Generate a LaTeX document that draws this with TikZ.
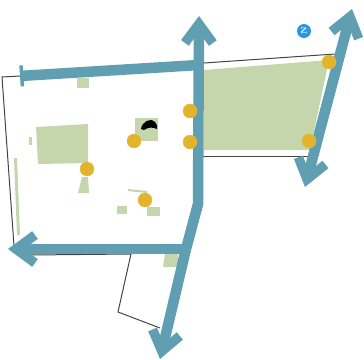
\documentclass[tikz,border=0pt]{standalone}
\usepackage{xcolor}
\usetikzlibrary{arrows.meta}
\definecolor{road}{HTML}{609FB2}
\definecolor{patch}{HTML}{C6D6AC}
\definecolor{spotc}{HTML}{E3B32C}
\definecolor{north}{HTML}{2A97DC}
\definecolor{wall}{HTML}{444444}
\begin{document}
\begin{tikzpicture}[x=1pt,y=-1pt,
  roadline/.style={draw=road,line width=10.5pt,line join=miter},
  roadtip/.tip={Straight Barb[length=19pt,width=28pt,line width=9.5pt]},
  wallline/.style={draw=wall,line width=1pt},
  patcharea/.style={fill=patch,draw=none},
  spot/.style={circle,fill=spotc,draw=spotc!90!white,inner sep=0pt,minimum size=14pt}
]
\useasboundingbox (0,0) rectangle (364,359);
% plot outline
\coordinate (w1) at (20,76);
\coordinate (w2) at (2,77);
\coordinate (w3) at (14,246);
\coordinate (w4) at (30,255);
\coordinate (w5) at (131,254);
\coordinate (w6) at (118,312);
\coordinate (w7) at (160,328);
\coordinate (w8) at (204,63);
\coordinate (w9) at (335,54);
\coordinate (w10) at (203,156);
\coordinate (w11) at (308,156);
\draw[wallline] (w1)--(w2)--(w3);
\draw[wallline] (w4)--(w5)--(w6)--(w7);
\draw[wallline] (w8)--(w9);
\draw[wallline] (w10)--(w11);
% green areas
\fill[patcharea] (204,70)--(329,60)--(310,150)--(204,150)--cycle;
\fill[patcharea] (36,127)--(88,124)--(88,163)--(38,164)--cycle;
\fill[patcharea] (77,78) rectangle (89,88);
\fill[patcharea] (29,137) rectangle (32,145);
\fill[patcharea] (14,158)--(17,158)--(20,235)--(17,235)--cycle;
\fill[patcharea] (78,193)--(82,177)--(88,177)--(89,193)--cycle;
\fill[patcharea] (135,118) rectangle (158,141);
\fill[patcharea] (117,206) rectangle (127,214);
\fill[patcharea] (147,207) rectangle (160,216);
\fill[patcharea] (128,189)--(147,191)--(147,193)--(128,191)--cycle;
\fill[patcharea] (165,254)--(178,254)--(178,267)--(163,267)--cycle;
% black mark
\fill[black] (141,129) .. controls (142,122) and (150,117) .. (155,122) .. controls (157,124) and (158,127) .. (157,129) .. controls (153,127) and (148,127) .. (144,130) -- cycle;
% roads
\coordinate (topwest) at (20,76);
\coordinate (topeast) at (199,65);
\coordinate (midnorth) at (199,16);
\coordinate (midbend) at (198,204);
\coordinate (junction) at (186,249);
\coordinate (midsouth) at (160,359);
\coordinate (west) at (8,249);
\coordinate (eastnorth) at (352,9);
\coordinate (eastsouth) at (305,187);
\draw[roadline,{Bar[width=21pt,line width=3.5pt,length=0pt]}-] (topwest)--(topeast);
\draw[roadline,-roadtip] (junction)--(west);
\draw[roadline,roadtip-roadtip] (midnorth)--(midbend)--(junction)--(midsouth);
\draw[roadline,roadtip-roadtip] (eastsouth)--(eastnorth);
% spots
\node[spot] (s1) at (329,62) {};
\node[spot] (s2) at (309,141) {};
\node[spot] (s3) at (190,111) {};
\node[spot] (s4) at (190,142) {};
\node[spot] (s5) at (134,141) {};
\node[spot] (s6) at (87,169) {};
\node[spot] (s7) at (145,200) {};
% north sign
\node[circle,fill=north,inner sep=0pt,minimum size=14pt,text=white,font=\bfseries\fontsize{8}{8}\selectfont,rotate=90] (compass) at (304,31) {N};
\end{tikzpicture}
\end{document}
